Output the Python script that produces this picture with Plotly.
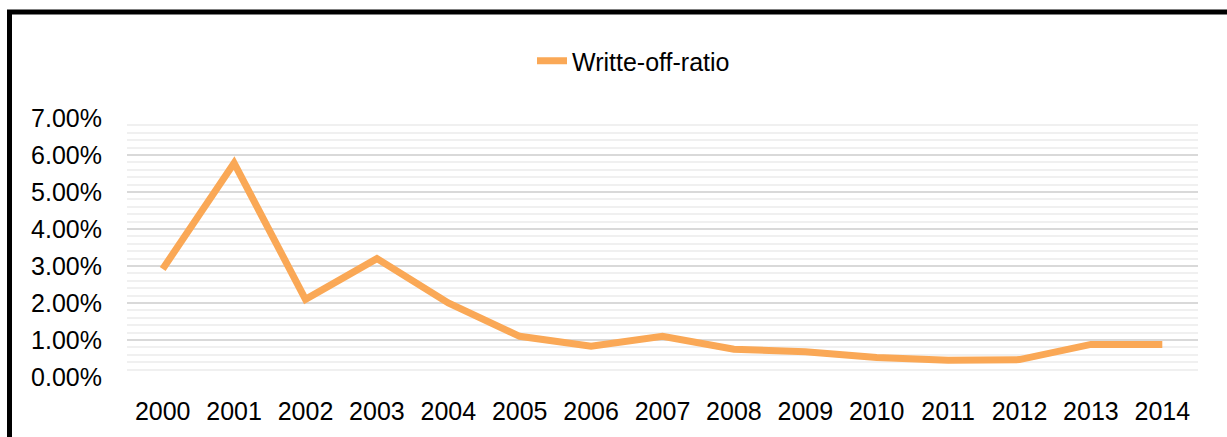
import plotly.graph_objects as go

years = ["2000", "2001", "2002", "2003", "2004", "2005", "2006", "2007",
         "2008", "2009", "2010", "2011", "2012", "2013", "2014"]
write_off_ratio = [0.0292, 0.0578, 0.0210, 0.0320, 0.0200, 0.0110, 0.0083, 0.0110,
                   0.0075, 0.0068, 0.0053, 0.0045, 0.0047, 0.0088, 0.0088]
series_name = "Writte-off-ratio"

W, H = 1227, 437
ml, mr, mt, mb = 127, 29, 118, 60
pw = W - ml - mr
ph = H - mt - mb


def px_x(p):
    return (p - ml) / pw


def px_y(p):
    return (H - mb - p) / ph


fig = go.Figure()
fig.add_trace(go.Scatter(
    x=years, y=write_off_ratio, mode="lines", name=series_name,
    line=dict(color="#FAA856", width=7),
))

font = dict(family="Liberation Sans, Arial, sans-serif", size=25, color="#000000")

fig.update_layout(
    width=W, height=H,
    margin=dict(l=ml, r=mr, t=mt, b=mb, autoexpand=False),
    paper_bgcolor="white", plot_bgcolor="white",
    font=font,
    showlegend=True,
    legend=dict(orientation="h", xref="container", yref="container",
                x=532 / W, xanchor="left",
                y=1 - 61 / H, yanchor="middle", font=font,
                bgcolor="rgba(0,0,0,0)"),
    xaxis=dict(type="category", range=[-0.5, len(years) - 0.5],
               showgrid=False, zeroline=False, showline=False, automargin=False,
               ticks="", ticklabelstandoff=17, tickfont=font),
    yaxis=dict(range=[0, 0.07], dtick=0.01, tickformat=".2%", automargin=False,
               showgrid=True, gridcolor="#D9D9D9", gridwidth=1.5,
               minor=dict(dtick=0.002, showgrid=True, gridcolor="#F0F0F0", gridwidth=1.5),
               zeroline=False, showline=False, ticks="",
               ticklabelstandoff=24, tickfont=font),
)

# outer black frame (partially outside the visible area, as in the reference)
fig.add_shape(type="rect", xref="paper", yref="paper",
              x0=px_x(9.5), x1=px_x(1240), y0=px_y(12), y1=px_y(460),
              line=dict(color="black", width=5), fillcolor="rgba(0,0,0,0)",
              layer="above")

fig.write_html("out.html", config={"displayModeBar": False},
               post_script="document.body.style.margin='0';document.body.style.overflow='hidden';")
